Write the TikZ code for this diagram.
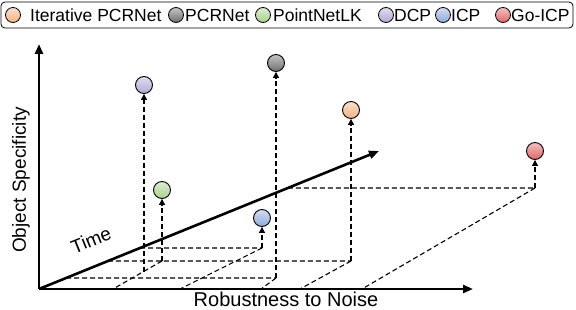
\documentclass[tikz,border=0pt]{standalone}
\usepackage{fontspec}
\setmainfont{Liberation Sans}
\usetikzlibrary{arrows.meta, positioning, calc}
\definecolor{mOrange}{HTML}{F4B183}
\definecolor{mGray}{HTML}{6E6E6E}
\definecolor{mGreen}{HTML}{A9D18E}
\definecolor{mPurple}{HTML}{B4A7D6}
\definecolor{mBlue}{HTML}{8EAADB}
\definecolor{mRed}{HTML}{E06666}
\tikzset{
  ball/.style={circle, draw=black, line width=0.9pt, minimum size=17pt, inner sep=0pt,
    top color=#1!40, bottom color=#1},
  keyball/.style={ball=#1, minimum size=15pt, line width=0.8pt},
  keytext/.style={anchor=base west, inner sep=0pt, font=\fontsize{17.5}{21}\selectfont},
  axis/.style={line width=2.6pt, -{Triangle[length=10pt, width=8pt]}},
  proj/.style={line width=1.1pt, dash pattern=on 5pt off 3pt},
  lift/.style={proj, -{Triangle[length=6pt, width=6pt]}},
}
\begin{document}
\begin{tikzpicture}[x=1pt, y=-1pt]
  \useasboundingbox (0,0) rectangle (576,310);
  % legend
  \draw[rounded corners=4pt, line width=0.8pt] (1,2) rectangle (573,28);
  \foreach \c/\x/\t/\lab [count=\i] in
    {mOrange/13/30/Iterative PCRNet, mGray/176/185/PCRNet, mGreen/263/273/PointNetLK,
     mPurple/386/394/DCP, mBlue/443/451/ICP, mRed/503/511/Go-ICP} {
    \node[keyball=\c] (key\i) at (\x,15) {};
    \node[keytext] (keylab\i) at (\t,21.5) {\lab};
  }

  % axes
  \coordinate (O) at (39,289);
  \coordinate (ytip) at (39,44);
  \coordinate (xtip) at (473,289);
  \coordinate (T) at (379,151);

  % methods
  \node[ball=mPurple] (dcp) at (144,85) {};
  \node[ball=mGray] (pcr) at (276,63) {};
  \node[ball=mGreen] (ptlk) at (162,190) {};
  \node[ball=mBlue] (icp) at (262,218) {};
  \node[ball=mOrange] (ipcr) at (351,110) {};
  \node[ball=mRed] (goicp) at (535,151) {};

  % floor points
  \coordinate (dcp-f) at (144,272);
  \coordinate (ptlk-f) at (162,261);
  \coordinate (icp-f) at (262,248);
  \coordinate (pcr-f) at (276,278);
  \coordinate (ipcr-f) at (351,261);
  \coordinate (goicp-f) at (535,188);

  % back to the time axis
  \coordinate (icp-t) at ($(O)!.2971!(T)$);
  \coordinate (pcr-t) at ($(O)!.0797!(T)$);
  \coordinate (ipcr-t) at ($(O)!.2029!(T)$);
  \coordinate (goicp-t) at ($(O)!.7319!(T)$);

  % down to the noise axis
  \coordinate (ptlk-x) at (113,289);
  \coordinate (icp-x) at (180,289);
  \coordinate (pcr-x) at (261,289);
  \coordinate (ipcr-x) at (300,289);
  \coordinate (goicp-x) at (362,289);

  \draw[proj] (icp-t) -- (icp-f);
  \draw[proj] (pcr-t) -- (pcr-f);
  \draw[proj] (ipcr-t) -- (ipcr-f);
  \draw[proj] (goicp-t) -- (goicp-f);
  \draw[proj] (ptlk-f) -- (ptlk-x);
  \draw[proj] (icp-f) -- (icp-x);
  \draw[proj] (pcr-f) -- (pcr-x);
  \draw[proj] (ipcr-f) -- (ipcr-x);
  \draw[proj] (goicp-f) -- (goicp-x);

  \draw[lift] (dcp-f) -- (dcp);
  \draw[lift] (ptlk-f) -- (ptlk);
  \draw[lift] (icp-f) -- (icp);
  \draw[lift] (pcr-f) -- (pcr);
  \draw[lift] (ipcr-f) -- (ipcr);
  \draw[lift] (goicp-f) -- (goicp);

  \draw[axis] (O) -- (ytip);
  \draw[axis] (O) -- (xtip);
  \draw[axis] (O) -- (T);

  \node[rotate=90, font=\fontsize{19}{22}\selectfont] (ylab) at (21,180) {Object Specificity};
  \node[anchor=base, font=\fontsize{20}{24}\selectfont] (xlab) at (286,306) {Robustness to Noise};
  \node[rotate=22, font=\fontsize{19}{22}\selectfont] (tlab) at (91,240) {Time};
\end{tikzpicture}
\end{document}
